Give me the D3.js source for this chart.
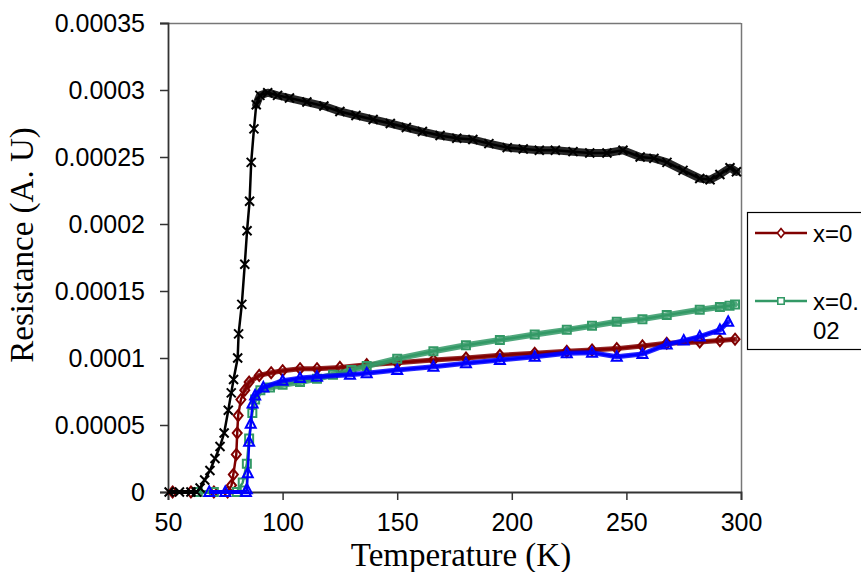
<!DOCTYPE html>
<html>
<head>
<meta charset="utf-8">
<script src="https://cdn.jsdelivr.net/npm/d3@7"></script>
<style>
  body { margin: 0; background: #fff; }
  svg { display: block; }
</style>
</head>
<body>
<script>
const width = 861
const height = 572

// temperatures (K) and resistance (units of 1e-5)
const redT = [52, 60, 70, 76, 77.7, 78.5, 79.8, 80.2, 80.6, 81.8, 83.5, 85.4, 89.8, 95, 100, 107.6, 115, 125, 136.7, 150, 165.8, 180, 194.8, 210, 224, 235, 245.8, 257, 267.6, 282, 290.8, 297.4]
const redR = [0, 0, 0, 0, 0.5, 1.3, 2.8, 4.4, 5.7, 6.9, 7.6, 8.2, 8.7, 8.9, 9.05, 9.2, 9.2, 9.3, 9.5, 9.65, 9.85, 10.0, 10.2, 10.35, 10.5, 10.6, 10.7, 10.9, 11.1, 11.2, 11.3, 11.4]

const greenT = [63, 70, 80, 82.6, 84.4, 85.4, 86.8, 88, 90.3, 94.5, 100, 107.6, 115, 122, 130, 136.7, 150, 165.8, 180, 194.8, 210, 224, 235, 245.8, 257, 267.6, 282, 290.8, 295, 297.4]
const greenR = [0, 0, 0, 0.7, 2.1, 4.0, 5.9, 6.9, 7.6, 7.8, 8.0, 8.2, 8.45, 8.75, 9.1, 9.4, 9.95, 10.5, 10.95, 11.35, 11.75, 12.1, 12.4, 12.7, 12.9, 13.2, 13.6, 13.8, 13.9, 14.0]

const blueT = [68, 75, 84, 84.4, 84.8, 85.4, 86.1, 86.9, 88, 91.6, 100, 107.6, 115, 129.4, 136.7, 150, 165.8, 180, 194.8, 210, 224, 235, 245.8, 257, 267.6, 275, 282, 290.8, 294.4]
const blueR = [0, 0, 0, 0.2, 1.4, 3.75, 5.1, 6.6, 7.2, 7.8, 8.3, 8.5, 8.6, 8.75, 8.86, 9.1, 9.35, 9.6, 9.85, 10.1, 10.35, 10.4, 10.1, 10.3, 11.0, 11.3, 11.6, 12.1, 12.7]

const blackT = [50.5, 55, 60, 62.5, 64, 66, 68.3, 70.5, 72.7, 74.5, 76.3, 77.6, 78.6, 80.4, 80.8, 82.2, 83.5, 84.5, 85.6, 86.3, 87.5, 88.5, 90.1, 93.5, 97.8, 103, 110.6, 118, 125, 132, 139.5, 147, 154, 161, 168.7, 176, 183, 190, 198, 205, 212, 219, 226.7, 234, 241.5, 248.5, 256, 262, 267.7, 274.7, 282, 286.5, 290.8, 295.2, 298]
const blackR = [0, 0, 0, 0, 0.3, 0.9, 1.6, 2.5, 3.4, 4.4, 6.1, 7.4, 8.4, 10.0, 11.8, 14.0, 17.0, 19.5, 21.7, 24.6, 27.1, 28.9, 29.6, 29.8, 29.6, 29.4, 29.1, 28.8, 28.4, 28.1, 27.8, 27.5, 27.2, 26.9, 26.6, 26.4, 26.3, 26.0, 25.7, 25.6, 25.5, 25.5, 25.4, 25.3, 25.3, 25.5, 25.0, 24.9, 24.6, 24.0, 23.4, 23.3, 23.7, 24.2, 23.9]

const xTicks = [50, 100, 150, 200, 250, 300]
const yTicks = [0, 0.00005, 0.0001, 0.00015, 0.0002, 0.00025, 0.0003, 0.00035]
const yTickLabels = ['0', '0.00005', '0.0001', '0.00015', '0.0002', '0.00025', '0.0003', '0.00035']

const series = [
  { name: 'x=0', t: redT, r: redR, color: '#800000', marker: 'diamond', knee: 83, band: 5 },
  { name: 'x=0.02', t: greenT, r: greenR, color: '#339966', marker: 'square', knee: 87, band: 6 },
  { name: 'blue', t: blueT, r: blueR, color: '#0000ff', marker: 'triangle', knee: 87, band: 5 },
  { name: 'black', t: blackT, r: blackR, color: '#000000', marker: 'cross', knee: 88, band: 8 }
]

const plot = { left: 168, right: 741, top: 23, bottom: 492 }

const x = d3.scaleLinear().domain([50, 300]).range([plot.left, plot.right])
const y = d3.scaleLinear().domain([0, 0.00035]).range([plot.bottom, plot.top])

const svg = d3.select('body').append('svg')
  .attr('width', width)
  .attr('height', height)
  .style('background', '#fff')

// frame: top and right edges are grey
svg.append('line')
  .attr('x1', plot.left).attr('x2', plot.right)
  .attr('y1', plot.top + 0.5).attr('y2', plot.top + 0.5)
  .attr('stroke', '#777').attr('stroke-width', 1.5)
svg.append('line')
  .attr('x1', plot.right + 0.5).attr('x2', plot.right + 0.5)
  .attr('y1', plot.top).attr('y2', plot.bottom)
  .attr('stroke', '#777').attr('stroke-width', 1.5)

svg.append('g')
  .attr('transform', `translate(${plot.left},0)`)
  .call(d3.axisLeft(y).tickValues(yTicks).tickSize(8).tickPadding(15)
    .tickFormat((d, i) => yTickLabels[i]))

svg.append('g')
  .attr('transform', `translate(0,${plot.bottom})`)
  .call(d3.axisBottom(x).tickValues(xTicks).tickSize(8).tickPadding(13)
    .tickFormat(d3.format('d')))

svg.selectAll('.domain').attr('stroke', '#333').attr('stroke-width', 1.8)
svg.selectAll('.tick line').attr('stroke', '#333').attr('stroke-width', 1.5)
svg.selectAll('.tick text')
  .attr('fill', '#000')
  .style('font-family', 'Arial, "Liberation Sans", sans-serif')
  .style('font-size', '25px')

// axis titles
svg.append('text')
  .attr('x', 461).attr('y', 566)
  .attr('text-anchor', 'middle')
  .style('font-family', '"Times New Roman", "Liberation Serif", serif')
  .style('font-size', '33px')
  .text('Temperature (K)')

svg.append('text')
  .attr('transform', 'translate(33,245) rotate(-90)')
  .attr('text-anchor', 'middle')
  .style('font-family', '"Times New Roman", "Liberation Serif", serif')
  .style('font-size', '33px')
  .text('Resistance (A. U)')

function markerPath (type) {
  if (type === 'diamond') return 'M0,-5.5L4.5,0L0,5.5L-4.5,0Z'
  if (type === 'square') return 'M-4,-4H4V4H-4Z'
  if (type === 'triangle') return 'M0,-5.5L5,4H-5Z'
  return 'M-4.5,-4.5L4.5,4.5M4.5,-4.5L-4.5,4.5'
}

const line = d3.line()
  .x(d => x(d.t))
  .y(d => y(d.r))

series.forEach(s => {
  const pts = s.t.map((t, i) => ({ t: t, r: s.r[i] * 1e-5 }))
  const g = svg.append('g')

  // on the plateau the points are so dense that the markers merge into a band
  g.append('path')
    .datum(pts.filter(d => d.t >= s.knee))
    .attr('d', line)
    .attr('fill', 'none')
    .attr('stroke', s.color)
    .attr('stroke-width', s.band)
    .attr('stroke-linejoin', 'round')
    .attr('stroke-linecap', 'round')
    .attr('stroke-opacity', 0.85)

  // the flat part at zero is dense as well
  g.append('path')
    .datum(pts.filter(d => d.r === 0))
    .attr('d', line)
    .attr('fill', 'none')
    .attr('stroke', s.color)
    .attr('stroke-width', 4)

  g.append('path')
    .datum(pts)
    .attr('d', line)
    .attr('fill', 'none')
    .attr('stroke', s.color)
    .attr('stroke-width', 2.5)

  g.selectAll('path.mk')
    .data(pts)
    .enter()
    .append('path')
    .attr('class', 'mk')
    .attr('transform', d => `translate(${x(d.t)},${y(d.r)})`)
    .attr('d', markerPath(s.marker))
    .attr('fill', 'none')
    .attr('stroke', s.color)
    .attr('stroke-width', 2)
})

// legend, cut off at the right edge like the original
const legend = svg.append('g')
legend.append('rect')
  .attr('x', 747.5).attr('y', 212.5)
  .attr('width', 130).attr('height', 137)
  .attr('fill', '#fff')
  .attr('stroke', '#000')
  .attr('stroke-width', 1.2)

const legendRows = [
  { s: series[0], y: 233, lines: ['x=0'] },
  { s: series[1], y: 301, lines: ['x=0.', '02'] }
]

legendRows.forEach(row => {
  legend.append('line')
    .attr('x1', 755).attr('x2', 807)
    .attr('y1', row.y).attr('y2', row.y)
    .attr('stroke', row.s.color)
    .attr('stroke-width', 2.5)
  legend.append('path')
    .attr('transform', `translate(781,${row.y}) scale(0.8)`)
    .attr('d', markerPath(row.s.marker))
    .attr('fill', '#fff')
    .attr('stroke', row.s.color)
    .attr('stroke-width', 2)
  const txt = legend.append('text')
    .attr('x', 813).attr('y', row.y + 9)
    .style('font-family', 'Arial, "Liberation Sans", sans-serif')
    .style('font-size', '24px')
  row.lines.forEach((l, i) => {
    txt.append('tspan').attr('x', 813).attr('dy', i === 0 ? 0 : 29).text(l)
  })
})
</script>
</body>
</html>
